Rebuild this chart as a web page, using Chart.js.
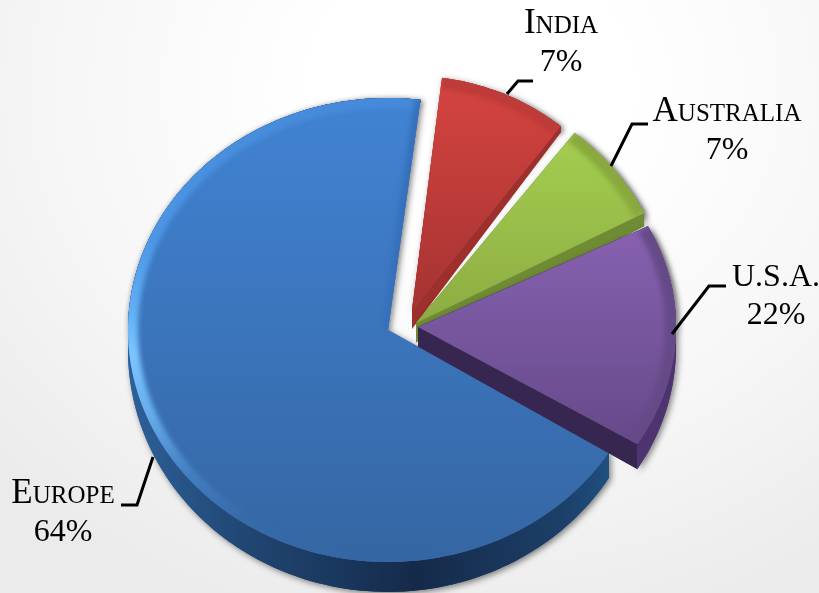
<!DOCTYPE html>
<html>
<head>
<meta charset="utf-8">
<title>Pie chart</title>
<script src="https://cdn.jsdelivr.net/npm/chart.js@4"></script>
<style>
  html, body { margin: 0; padding: 0; width: 819px; height: 593px; overflow: hidden; }
  body { background: radial-gradient(ellipse 640px 560px at 470px 90px, #ffffff 25%, #f6f6f6 65%, #ebebeb 100%); }
  #chartBox { width: 819px; height: 593px; }
</style>
</head>
<body>
<div id="chartBox"><canvas id="pieChart"></canvas></div>
<script>
// Chart data
const categories = ['Europe', 'India', 'Australia', 'U.S.A.'];
const shares = [64, 7, 7, 22];

// Slice look
const topColors = [['#4183d3', '#3566a3'], ['#d54441', '#a53331'], ['#a5ce50', '#8cac42'], ['#8762b0', '#66498a']];
const bandColors = ['#5aa6f2', '#bd3b38', '#89a93f', '#664a88'];
const cutColors = ['#3570bb', '#9f2f2d', '#6f8c34', '#37264f'];
const rimColors = ['#1f4470', '#9f2f2d', '#6f8c34', '#4d3470'];

// Pulled-out slices: shift of the apex and the ellipse radii, in pixels
const shiftX = [0, 24, 28, 30];
const shiftY = [0, -20, -7, -3];
const radiusX = [260, 240, 256, 258];
const radiusY = [232, 234, 242, 222];

// Label placement: centre x, first baseline, and the leader line
const labelX = [63, 561, 727, 776];
const labelY = [503, 33, 121, 286];
const leaders = [
  [[153, 457], [137, 505], [121, 505]],
  [[507, 94], [518, 81], [533, 81]],
  [[611, 166], [632, 124], [648, 124]],
  [[672, 334], [709, 286], [726, 286]]
];

// the tilt squeezes the slices that point sideways, a bit less on the far side
const foreshortenFar = 0.75;
const foreshortenNear = 0.62;
const maxDepth = 30;

function depthAt(y) {
  return maxDepth * Math.pow(Math.max(0, (y - 90) / 475), 0.6);
}

function rimPoint(arc, i, angle) {
  const s = Math.sin(angle);
  const t = Math.atan2((s < 0 ? foreshortenFar : foreshortenNear) * s, Math.cos(angle));
  return [arc.x + shiftX[i] + radiusX[i] * Math.cos(t), arc.y + shiftY[i] + radiusY[i] * Math.sin(t)];
}

function rimPoints(arc, i) {
  const pts = [];
  const steps = Math.ceil((arc.endAngle - arc.startAngle) / (Math.PI / 180));
  for (let s = 0; s <= steps; s++) {
    pts.push(rimPoint(arc, i, arc.startAngle + (arc.endAngle - arc.startAngle) * s / steps));
  }
  return pts;
}

function dropped(p) {
  return [p[0], p[1] + depthAt(p[1])];
}

function tracePath(ctx, pts) {
  ctx.beginPath();
  pts.forEach((p, n) => n ? ctx.lineTo(p[0], p[1]) : ctx.moveTo(p[0], p[1]));
}

function fillPolygon(ctx, pts, fill) {
  tracePath(ctx, pts);
  ctx.closePath();
  ctx.fillStyle = fill;
  ctx.fill();
}

function drawSlice(ctx, arc, i) {
  const apex = [arc.x + shiftX[i], arc.y + shiftY[i]];
  const rim = rimPoints(arc, i);
  const outline = [apex].concat(rim);
  const rimStrip = rim.concat(rim.slice().reverse().map(dropped));
  const ys = outline.map(p => p[1]);
  const top = Math.min.apply(null, ys), bottom = Math.max.apply(null, ys);

  let rimFill = rimColors[i];
  if (i === 0) {
    rimFill = ctx.createLinearGradient(128, 0, 610, 0);
    rimFill.addColorStop(0, '#2d6099');
    rimFill.addColorStop(0.25, '#204672');
    rimFill.addColorStop(0.6, '#152a4a');
    rimFill.addColorStop(0.9, '#1c3f68');
    rimFill.addColorStop(1, '#1f4f80');
  }

  // soft shadow under the whole solid
  ctx.save();
  ctx.shadowColor = 'rgba(0,0,0,0.5)';
  ctx.shadowBlur = 6;
  ctx.shadowOffsetX = 2;
  ctx.shadowOffsetY = 2;
  fillPolygon(ctx, outline, cutColors[i]);
  fillPolygon(ctx, rimStrip, rimFill);
  ctx.restore();

  // sides: Europe's cuts face away from the viewer, the others show theirs
  fillPolygon(ctx, rimStrip, rimFill);
  if (i > 0) {
    [rim[0], rim[rim.length - 1]].forEach(p => {
      fillPolygon(ctx, [apex, p, dropped(p), dropped(apex)], cutColors[i]);
    });
  }

  // top face
  const topFill = ctx.createLinearGradient(0, top, 0, bottom);
  topFill.addColorStop(0, topColors[i][0]);
  topFill.addColorStop(1, topColors[i][1]);
  fillPolygon(ctx, outline, topFill);

  // bevel along the outer edge
  ctx.save();
  tracePath(ctx, outline);
  ctx.closePath();
  ctx.clip();
  let bandFill = bandColors[i];
  if (i === 0) {
    bandFill = ctx.createLinearGradient(0, 100, 0, 565);
    bandFill.addColorStop(0, '#468ad9');
    bandFill.addColorStop(0.3, '#4d96e6');
    bandFill.addColorStop(0.45, '#62aef5');
    bandFill.addColorStop(0.55, '#7cc6ff');
    bandFill.addColorStop(0.68, '#66ace9');
    bandFill.addColorStop(0.8, '#4480c2');
    bandFill.addColorStop(0.9, '#376aa8');
    bandFill.addColorStop(1, '#3566a3');
  }
  ctx.filter = 'blur(2.5px)';
  ctx.lineJoin = 'round';
  ctx.lineWidth = i === 0 ? 20 : 22;
  ctx.strokeStyle = bandFill;
  tracePath(ctx, i === 0 ? rim.slice(40) : rim);
  ctx.stroke();
  if (i === 0) {
    // darker strip along the cut beside India
    ctx.lineWidth = 12;
    ctx.strokeStyle = '#3570bb';
    tracePath(ctx, [apex, rim[rim.length - 1]]);
    ctx.stroke();
  }
  ctx.restore();
}

function drawLabel(ctx, i) {
  ctx.fillStyle = '#000';
  ctx.textAlign = 'center';
  ctx.textBaseline = 'alphabetic';
  // names in mixed case come out as small capitals, the abbreviation stays plain
  const hasLower = categories[i] !== categories[i].toUpperCase();
  ctx.font = hasLower ? 'small-caps 35px "Liberation Serif"' : '32px "Liberation Serif"';
  ctx.fillText(categories[i], labelX[i], labelY[i]);
  ctx.font = '32px "Liberation Serif"';
  ctx.fillText(shares[i] + '%', labelX[i], labelY[i] + 38);

  ctx.strokeStyle = '#000';
  ctx.lineWidth = 3;
  ctx.lineJoin = 'miter';
  tracePath(ctx, leaders[i]);
  ctx.stroke();
}

// Chart.js lays out the arcs, this plugin paints them as a tilted solid
const solidPie = {
  id: 'solidPie',
  beforeDatasetsDraw(chart) {
    const ctx = chart.ctx;
    const arcs = chart.getDatasetMeta(0).data;
    arcs.forEach((arc, i) => drawSlice(ctx, arc, i));
    arcs.forEach((arc, i) => drawLabel(ctx, i));
    return false;
  }
};

new Chart(document.getElementById('pieChart').getContext('2d'), {
  type: 'pie',
  data: {
    labels: categories,
    datasets: [{ data: shares, borderWidth: 0 }]
  },
  options: {
    responsive: true,
    maintainAspectRatio: false,
    animation: false,
    rotation: 135,
    layout: { padding: { left: 0, right: 43, top: 67, bottom: 0 } },
    plugins: { legend: { display: false }, tooltip: { enabled: false } }
  },
  plugins: [solidPie]
});
</script>
</body>
</html>
